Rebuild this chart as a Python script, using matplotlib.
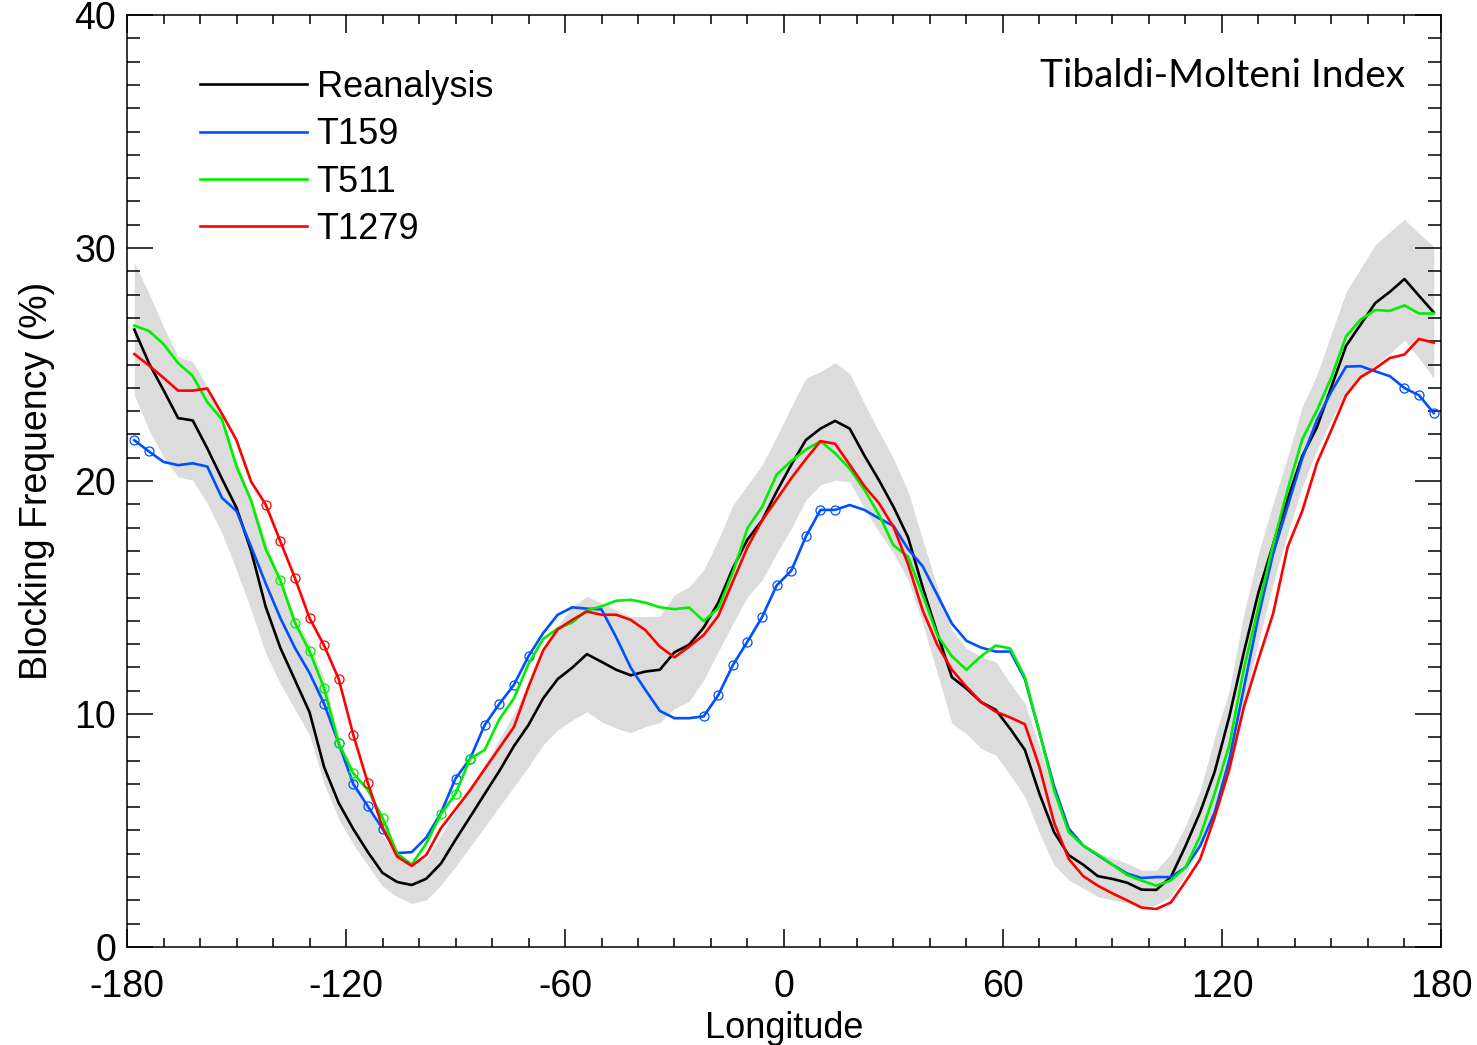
import numpy as np
import matplotlib
matplotlib.use("Agg")
from matplotlib import pyplot as plt
from matplotlib.ticker import MultipleLocator

plt.rcParams['font.family'] = ['Liberation Sans', 'DejaVu Sans']
plt.rcParams['axes.unicode_minus'] = False

# longitude of each grid point
lon = np.arange(-178, 179, 4)

reanalysis = [26.5, 25.06, 23.9, 22.7, 22.6, 21.4, 20.1, 18.85, 17.0, 14.6, 12.84, 11.46, 10.08, 7.72, 6.18,
              5.06, 4.07, 3.18, 2.79, 2.66, 2.93, 3.58, 4.6, 5.58, 6.57, 7.55, 8.62, 9.53, 10.67, 11.5,
              11.99, 12.57, 12.24, 11.9, 11.66, 11.82, 11.9, 12.65, 12.97, 13.71, 14.78, 16.26, 17.49, 18.31, 19.55,
              20.7, 21.76, 22.25, 22.58, 22.25, 21.1, 20.04, 18.89, 17.58, 15.44, 13.47, 11.58, 11.09, 10.51, 10.18,
              9.36, 8.46, 6.57, 4.93, 3.94, 3.53, 3.04, 2.92, 2.76, 2.46, 2.45, 3.0, 4.33, 5.78, 7.52,
              9.88, 12.65, 15.22, 17.27, 19.23, 21.07, 22.3, 24.05, 25.8, 26.72, 27.64, 28.12, 28.67, 27.95, 27.24]

t159 = [21.75, 21.27, 20.82, 20.68, 20.76, 20.62, 19.28, 18.71, 17.18, 15.6, 14.12, 12.84, 11.76, 10.44, 8.74,
        6.99, 6.04, 5.06, 4.03, 4.07, 4.7, 5.75, 7.23, 8.08, 9.53, 10.43, 11.25, 12.48, 13.47, 14.26,
        14.58, 14.52, 14.49, 13.3, 11.99, 11.04, 10.13, 9.82, 9.82, 9.9, 10.81, 12.1, 13.11, 14.16, 15.52,
        16.15, 17.62, 18.76, 18.76, 18.97, 18.76, 18.4, 18.07, 17.08, 16.34, 15.11, 13.88, 13.14, 12.85, 12.68,
        12.68, 11.5, 9.2, 6.9, 5.09, 4.35, 3.94, 3.53, 3.15, 2.96, 3.0, 3.0, 3.41, 4.33, 5.78,
        8.03, 11.12, 14.19, 16.87, 18.92, 20.97, 22.61, 23.85, 24.91, 24.93, 24.71, 24.5, 23.99, 23.68, 22.92]

t511 = [26.67, 26.44, 25.88, 25.06, 24.51, 23.38, 22.65, 20.62, 19.15, 17.08, 15.74, 13.92, 12.7, 11.11, 8.74,
        7.46, 6.73, 5.55, 4.01, 3.54, 4.45, 5.7, 6.57, 8.08, 8.46, 9.77, 10.67, 12.15, 13.22, 13.67,
        13.93, 14.45, 14.62, 14.86, 14.9, 14.78, 14.58, 14.5, 14.57, 13.99, 14.54, 16.09, 17.98, 18.89, 20.28,
        20.86, 21.35, 21.71, 21.19, 20.53, 19.63, 18.56, 17.24, 16.75, 15.11, 13.39, 12.48, 11.9, 12.48, 12.94,
        12.81, 11.58, 9.2, 6.73, 4.93, 4.35, 3.97, 3.53, 3.09, 2.85, 2.63, 2.86, 3.41, 4.75, 6.6,
        8.65, 11.94, 14.6, 17.27, 19.64, 21.79, 23.03, 24.46, 26.21, 26.93, 27.34, 27.3, 27.54, 27.19, 27.19]

t1279 = [25.45, 24.96, 24.43, 23.88, 23.88, 23.97, 22.89, 21.75, 19.97, 18.99, 17.41, 15.84, 14.12, 12.94, 11.5,
         9.1, 7.03, 5.15, 3.88, 3.48, 3.95, 5.1, 5.91, 6.73, 7.64, 8.54, 9.44, 11.17, 12.73, 13.63,
         14.04, 14.4, 14.26, 14.26, 14.04, 13.6, 12.89, 12.43, 12.89, 13.39, 14.21, 15.69, 17.16, 18.31, 19.21,
         20.12, 20.94, 21.71, 21.6, 20.7, 19.79, 19.05, 18.03, 16.43, 14.45, 12.97, 11.9, 11.17, 10.51, 10.1,
         9.85, 9.56, 7.72, 5.34, 3.78, 3.04, 2.63, 2.3, 2.0, 1.69, 1.63, 1.91, 2.8, 3.76, 5.57,
         7.62, 10.29, 12.35, 14.3, 17.17, 18.71, 20.76, 22.2, 23.68, 24.46, 24.83, 25.28, 25.43, 26.1, 25.94]

# reanalysis uncertainty range (grey band)
band_hi = [29.37, 28.06, 26.62, 25.34, 25.12, 24.05, 22.76, 20.9, 19.33, 17.47, 15.75, 14.18, 13.03, 11.5, 9.0,
           7.3, 6.0, 4.8, 3.9, 3.6, 3.8, 4.8, 5.8, 6.8, 7.8, 8.9, 10.0, 11.3, 12.7, 13.8,
           14.6, 15.06, 14.75, 14.46, 14.18, 14.18, 14.2, 15.11, 15.46, 16.18, 17.47, 18.97, 19.83, 20.69, 21.9,
           23.19, 24.41, 24.69, 25.08, 24.62, 23.33, 22.12, 20.97, 19.54, 17.47, 15.46, 13.6, 12.82, 12.46, 12.24,
           11.32, 10.46, 8.6, 6.6, 5.02, 4.3, 4.02, 3.8, 3.59, 3.3, 3.3, 4.0, 5.2, 6.7, 9.0,
           11.0, 14.3, 16.9, 19.04, 21.04, 23.19, 24.55, 26.34, 28.12, 29.13, 30.13, 30.7, 31.23, 30.63, 30.06]

band_lo = [23.69, 22.19, 21.04, 20.18, 20.04, 19.04, 17.76, 16.18, 14.46, 12.6, 11.3, 10.2, 9.1, 7.0, 5.5,
           4.4, 3.5, 2.6, 2.16, 1.87, 2.02, 2.66, 3.45, 4.3, 5.16, 6.02, 6.88, 7.74, 8.67, 9.31,
           9.74, 10.1, 9.67, 9.39, 9.2, 9.46, 9.63, 10.24, 10.53, 11.46, 12.67, 13.89, 15.03, 15.75, 16.9,
           17.97, 19.18, 19.83, 20.04, 19.97, 18.83, 17.82, 16.9, 15.75, 13.89, 11.75, 9.6, 9.15, 8.53, 8.24,
           7.38, 6.45, 4.88, 3.52, 2.88, 2.52, 2.16, 2.02, 1.88, 1.73, 1.8, 2.16, 3.1, 4.3, 5.6,
           7.6, 10.4, 13.1, 15.6, 17.75, 19.76, 21.33, 22.62, 23.83, 24.48, 24.98, 25.48, 26.05, 25.27, 24.41]

# grid points flagged with circles
sig_t159 = [0, 1, 13, 14, 15, 16, 17, 22, 23, 24, 25, 26, 27,
            39, 40, 41, 42, 43, 44, 45, 46, 47, 48, 87, 88, 89]
sig_t511 = [10, 11, 12, 13, 14, 15, 17, 21, 22, 23]
sig_t1279 = [9, 10, 11, 12, 13, 14, 15, 16]

names = ["Reanalysis", "T159", "T511", "T1279"]
colors = ["black", "#0050ff", "#00ee00", "#ff0000"]
series = [reanalysis, t159, t511, t1279]
marks = [[], sig_t159, sig_t511, sig_t1279]

fig = plt.figure(figsize=(14.77, 10.45), dpi=100)
ax = fig.add_axes([0.086, 0.0938, 0.8896, 0.8918])

ax.fill_between(lon, band_lo, band_hi, color="#dcdcdc", linewidth=0)

for name, col, vals, idx in zip(names, colors, series, marks):
    vals = np.array(vals)
    ax.plot(lon, vals, color=col, lw=1.9, label=name)
    if idx:
        ax.plot(lon[idx], vals[idx], "o", ms=6.5, mfc="none", mec=col, mew=0.9)

ax.set_xlim(-180, 180)
ax.set_ylim(0, 40)
ax.xaxis.set_major_locator(MultipleLocator(60))
ax.xaxis.set_minor_locator(MultipleLocator(10))
ax.yaxis.set_major_locator(MultipleLocator(10))
ax.yaxis.set_minor_locator(MultipleLocator(1))
ax.tick_params(which="both", direction="in", top=True, right=True, labelsize=27, width=1.1)
ax.tick_params(axis="x", which="major", length=13, pad=16)
ax.tick_params(axis="x", which="minor", length=6.7)
ax.tick_params(axis="y", which="major", length=18.5, pad=8)
ax.tick_params(axis="y", which="minor", length=9.3)
for s in ax.spines.values():
    s.set_linewidth(1.1)

ax.set_xlabel("Longitude", fontsize=26, labelpad=4)
ax.set_ylabel("Blocking Frequency (%)", fontsize=27, labelpad=14)

ax.text(0.9726, 0.935, "Tibaldi-Molteni Index", transform=ax.transAxes,
        ha="right", va="center", fontsize=28, family=["Lato", "DejaVu Sans"])

ax.legend(loc="upper left", bbox_to_anchor=(0.0556, 0.941), frameon=False, fontsize=26,
          handlelength=2.95, handletextpad=0.28, labelspacing=0.34, borderpad=0, borderaxespad=0)

fig.savefig("out.png", dpi=100)
